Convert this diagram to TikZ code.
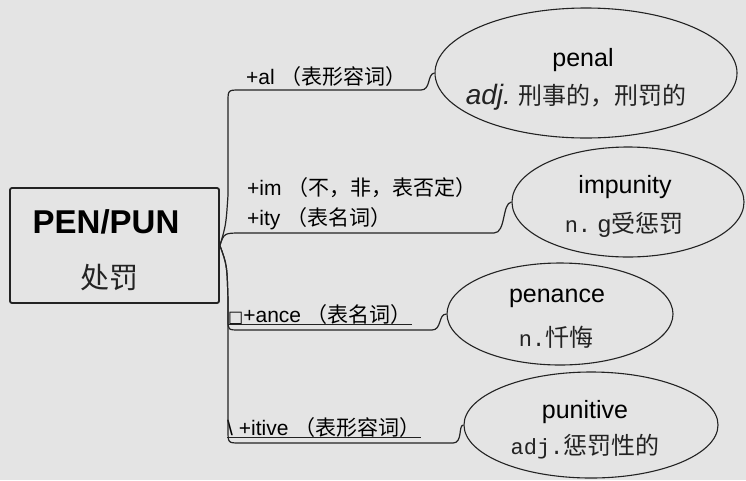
\documentclass[tikz,border=0pt]{standalone}
\usepackage{fontspec}
\usetikzlibrary{shapes.geometric}
\setmainfont{Liberation Sans}
\setmonofont{Liberation Mono}
\newfontfamily\cjk{Noto Sans CJK SC}
\newfontfamily\symfont{DejaVu Sans}
\definecolor{paper}{RGB}{228,228,228}
\definecolor{ink}{RGB}{35,35,35}
\newcommand{\zh}[1]{{\cjk\fontsize{21}{24}\selectfont #1}}
\newcommand{\lat}[1]{{\ttfamily\fontsize{22}{26}\selectfont #1}}

\tikzstyle{root} = [draw=ink, line width=1.8pt, rounded corners=2pt, minimum width=209pt, minimum height=115pt]
\tikzstyle{leaf} = [draw=ink, line width=1.1pt, ellipse, inner sep=0pt]
\tikzstyle{tag} = [anchor=base west, inner sep=0pt, font=\fontsize{21}{24}\selectfont]
\tikzstyle{word} = [inner sep=0pt, font=\fontsize{25}{30}\selectfont]
\tikzstyle{mean} = [inner sep=0pt, text=ink, font=\cjk\fontsize{24}{28}\selectfont]
\tikzstyle{link} = [draw=ink, line width=1.2pt]

\begin{document}
\begin{tikzpicture}[x=1pt, y=-1pt]
\fill[paper] (0,0) rectangle (746,480);
\useasboundingbox (0,0) rectangle (746,480);

% root
\node[root] (pen) at (114.5,245.5) {};
\node[inner sep=0pt, font=\bfseries\fontsize{33}{40}\selectfont] (pentitle) at (106,222) {PEN/PUN};
\node[mean, font=\cjk\fontsize{29}{34}\selectfont] (penmean) at (109,278) {处罚};

% leaves
\node[leaf, minimum width=302pt, minimum height=130pt] (penal) at (586,73) {};
\node[word] (penalword) at (583,60) {penal};
\node[mean] (penalmean) at (576,97) {{\rmfamily\itshape\fontsize{28}{30}\selectfont adj.} 刑事的，刑罚的};

\node[leaf, minimum width=232pt, minimum height=110pt] (impunity) at (628,202) {};
\node[word] (impword) at (625,187) {impunity};
\node[mean] (impmean) at (624,225) {\lat{n.}{\rmfamily\ g}受惩罚};

\node[leaf, minimum width=226pt, minimum height=102pt] (penance) at (560,314) {};
\node[word] (penanceword) at (557,298) {penance};
\node[mean] (penancemean) at (556,337) {\lat{n.}忏悔};

\node[leaf, minimum width=254pt, minimum height=106pt] (punitive) at (591,425) {};
\node[word] (punword) at (585,412) {punitive};
\node[mean] (punmean) at (585,447) {\lat{adj.}惩罚性的};

% affix labels
\node[tag] (al) at (246,84) {+al \zh{（表形容词）}};
\node[tag] (im) at (247,195) {+im \zh{（不，非，表否定）}};
\node[tag] (ity) at (247,225) {+ity \zh{（表名词）}};
\node[tag] (ance) at (228,322) {{\symfont\fontsize{16}{20}\selectfont □}+ance \zh{（表名词）}};
\node[tag] (itive) at (227,435) {\textbackslash\ +itive \zh{（表形容词）}};
\draw[ink, line width=1pt] ([yshift=-2pt]ance.base west) -- ([yshift=-2pt]ance.base east);
\draw[ink, line width=1pt] ([yshift=-2pt]itive.base west) -- ([yshift=-2pt]itive.base east);

% branches
\draw[link] (pen.east) .. controls (226,225) .. (228,195) -- (228,102)
    .. controls (228,90) .. (240,90) -- (421,90)
    .. controls (431,90) and (427,74) .. (penal.west);
\draw[link] (pen.east) .. controls (224,233) .. (242,233) -- (494,233)
    .. controls (506,233) and (502,203) .. (impunity.west);
\draw[link] (pen.east) .. controls (227,265) .. (228,300) -- (228,320)
    .. controls (228,330) .. (240,330) -- (432,330)
    .. controls (442,330) and (438,314) .. (penance.west);
\draw[link] (pen.east) .. controls (227,265) .. (228,300) -- (228,430)
    .. controls (228,443) .. (240,443) -- (453,443)
    .. controls (463,443) and (458,425) .. (punitive.west);
\end{tikzpicture}
\end{document}
